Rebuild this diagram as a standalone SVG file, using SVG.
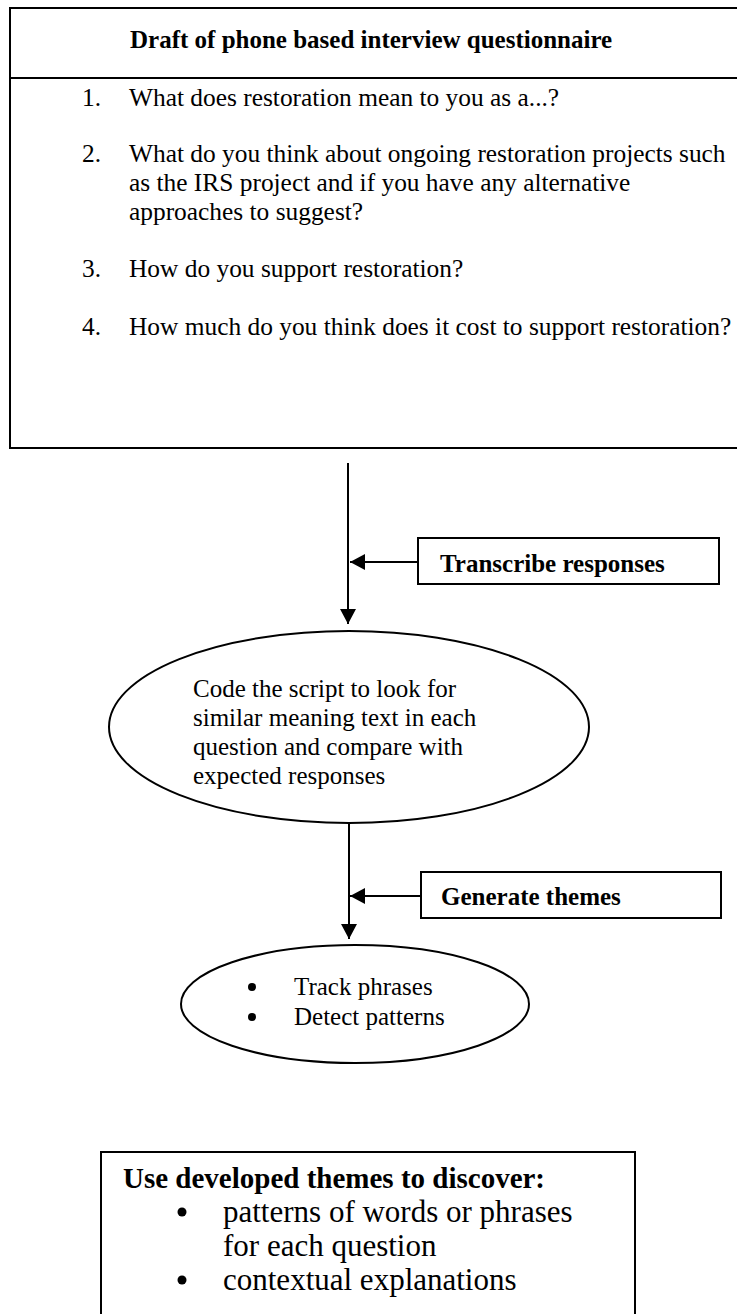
<svg xmlns="http://www.w3.org/2000/svg" width="737" height="1314" viewBox="0 0 737 1314">
<style>
.t{font-family:"Liberation Serif","Times New Roman",serif;fill:#000}
.r{font-size:25px}
.q{font-size:25.4px}
.b{font-size:25px;font-weight:bold}
.big{font-size:31px}
.bigb{font-size:29px;font-weight:bold}
.box{fill:#fff;stroke:#000;stroke-width:2}
.ln{fill:none;stroke:#000;stroke-width:2}
</style>
<defs>
<marker id="ah" viewBox="0 0 15 16" refX="15" refY="8" markerWidth="15" markerHeight="16" markerUnits="userSpaceOnUse" orient="auto">
<path d="M0,0 L15,8 L0,16 z" fill="#000"/>
</marker>
</defs>
<rect width="737" height="1314" fill="#fff"/>
<g id="questionnaire">
<rect x="10" y="8" width="740" height="440" class="box" stroke-width="2.5"/>
<line x1="10" y1="78" x2="737" y2="78" class="ln" stroke-width="2.5"/>
<text class="t b" x="130" y="48">Draft of phone based interview questionnaire</text>
<text class="t q" x="82" y="106">1.</text>
<text class="t q" x="129" y="106">What does restoration mean to you as a...?</text>
<text class="t q" x="82" y="162">2.</text>
<text class="t q" x="129" y="162">What do you think about ongoing restoration projects such</text>
<text class="t q" x="129" y="191">as the IRS project and if you have any alternative</text>
<text class="t q" x="129" y="220">approaches to suggest?</text>
<text class="t q" x="82" y="277">3.</text>
<text class="t q" x="129" y="277">How do you support restoration?</text>
<text class="t q" x="82" y="335">4.</text>
<text class="t q" x="129" y="335">How much do you think does it cost to support restoration?</text>
</g>
<g id="transcribe">
<rect x="418" y="538" width="301" height="46" class="box"/>
<text class="t b" x="440" y="572">Transcribe responses</text>
</g>
<g id="code-script">
<ellipse cx="349" cy="727" rx="240" ry="96" class="box"/>
<text class="t r" x="193" y="697">Code the script to look for</text>
<text class="t r" x="193" y="726">similar meaning text in each</text>
<text class="t r" x="193" y="755">question and compare with</text>
<text class="t r" x="193" y="784">expected responses</text>
</g>
<g id="generate">
<rect x="421" y="872" width="300" height="46" class="box"/>
<text class="t b" x="441" y="905">Generate themes</text>
</g>
<g id="track">
<ellipse cx="355" cy="1004" rx="174" ry="59" class="box"/>
<circle cx="252" cy="987" r="4"/>
<text class="t r" x="294" y="995">Track phrases</text>
<circle cx="252" cy="1017" r="4"/>
<text class="t r" x="294" y="1025">Detect patterns</text>
</g>
<g id="discover">
<rect x="101" y="1152" width="534" height="180" class="box"/>
<text class="t bigb" x="123" y="1188">Use developed themes to discover:</text>
<circle cx="182" cy="1212" r="4.5"/>
<text class="t big" x="223" y="1222">patterns of words or phrases</text>
<text class="t big" x="223" y="1256">for each question</text>
<circle cx="182" cy="1280" r="4.5"/>
<text class="t big" x="223" y="1290">contextual explanations</text>
</g>
<g id="connectors">
<line x1="348" y1="463" x2="348" y2="624" class="ln" marker-end="url(#ah)"/>
<line x1="418" y1="562" x2="350" y2="562" class="ln" marker-end="url(#ah)"/>
<line x1="349" y1="823" x2="349" y2="939" class="ln" marker-end="url(#ah)"/>
<line x1="421" y1="896" x2="350" y2="896" class="ln" marker-end="url(#ah)"/>
</g>
</svg>
